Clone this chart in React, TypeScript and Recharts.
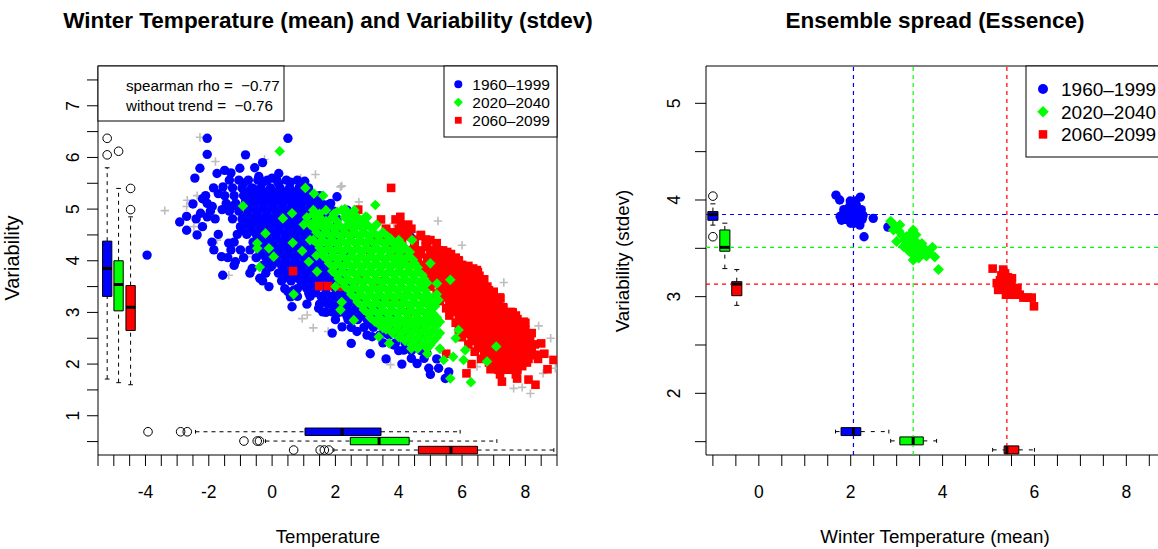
import React from "react";
import { ScatterChart, Scatter, XAxis, YAxis, ReferenceArea, ReferenceLine } from "recharts";

type P = [number, number];
type Row = [number, number[]];

const periods = ["1960–1999", "2020–2040", "2060–2099"];
const colors = ["#0000FF", "#00FF00", "#FF0000"];

// ---------- Left panel: individual winters (temperature, variability) ----------
const leftBlue: P[] = [
  [-2.05, 6.37], [0.5, 6.37], [-2.05, 6.06], [-0.84, 6.05], [-2.28, 5.79], [-2.44, 5.6], [-1.74, 5.69], [-1.5, 5.75],
  [-1.02, 5.79], [-0.55, 5.8], [-1.55, 5.43], [0.21, 5.69], [-0.42, 5.63], [-0.26, 5.53], [0.58, 5.52], [1.03, 5.54],
  [-1.89, 5.05], [-1.58, 4.99], [-1.28, 5.05], [-2.26, 4.92], [-2.05, 4.85], [-2.7, 4.86], [-2.92, 4.75], [-2.7, 4.59],
  [-2.37, 4.5], [-1.84, 4.21], [-1.6, 4.08], [-1.56, 3.72], [-1.16, 3.98], [-1.37, 4.34], [-1.0, 4.21], [-0.84, 5.2],
  [-0.63, 5.08], [-0.37, 5.37], [-0.07, 5.17], [0.16, 5.3], [-0.79, 4.85], [-0.95, 4.59], [-0.47, 4.72], [-0.1, 4.75],
  [-0.63, 3.85], [-0.39, 3.66], [-0.05, 3.88], [0.26, 4.21], [0.58, 4.34], [0.68, 4.59], [0.89, 5.05], [1.32, 5.17],
  [1.74, 5.08], [2.05, 5.24], [2.37, 4.98], [0.63, 3.11], [1.47, 3.08], [1.16, 3.37], [0.68, 3.43], [0.58, 3.3],
  [1.13, 3.56], [2.21, 2.72], [2.68, 2.63], [3.16, 2.53], [3.63, 2.59], [3.84, 2.37], [4.16, 2.27], [4.58, 2.01],
  [4.95, 1.92], [5.26, 1.92], [5.47, 1.72], [5.58, 1.85], [4.89, 2.21], [4.47, 2.4], [2.05, 2.98], [2.37, 2.92],
  [1.74, 3.17], [2.05, 3.43], [1.53, 3.69], [1.74, 3.95], [1.32, 4.21], [1.63, 4.46], [2.37, 4.08], [2.58, 3.56],
  [3.32, 3.24], [2.79, 3.05], [3.84, 2.92], [4.26, 2.72], [3.42, 2.79], [3.0, 4.34], [2.58, 4.53], [4.37, 4.46],
  [-3.95, 4.11], [-2.5, 5.1], [-1.7, 5.3], [-0.9, 5.5], [-0.3, 5.9], [0.2, 5.5], [1.0, 5.2], [-2.2, 5.2],
  [-1.3, 5.7], [0.0, 5.6], [-0.6, 5.4], [1.9, 2.6], [2.5, 2.4], [3.1, 2.2], [3.6, 2.1], [4.1, 2.0],
  [5.0, 1.8], [5.2, 2.1], [4.7, 2.5], [-0.1, 3.5], [0.5, 3.4], [1.7, 3.0],
];
// dense core of the 1960-1999 cloud: [variability, temperatures]
const leftBlueCore: Row[] = [
  [5.56, [-1.35, -1.05, -0.75, -0.45, -0.15, 0.15, 0.45, 0.8]],
  [5.41, [-1.85, -1.25, -0.95, -0.65, -0.35, -0.05, 0.25, 0.55, 0.85, 1.15]],
  [5.26, [-2.1, -1.5, -1.2, -0.9, -0.6, -0.3, 0.0, 0.3, 0.6, 0.9, 1.2, 1.5]],
  [5.11, [-2.05, -1.45, -1.15, -0.85, -0.55, -0.25, 0.05, 0.35, 0.65, 0.95, 1.25, 1.55, 1.85]],
  [4.96, [-1.95, -1.35, -1.05, -0.75, -0.45, -0.15, 0.15, 0.45, 0.75, 1.05, 1.35, 1.65, 1.95]],
  [4.81, [-2.4, -1.8, -1.25, -0.95, -0.65, -0.35, -0.05, 0.25, 0.55, 0.85, 1.15, 1.45, 1.75, 2.05]],
  [4.66, [-2.2, -1.0, -0.7, -0.4, -0.1, 0.2, 0.5, 0.8, 1.1, 1.4, 1.7, 2.0]],
  [4.51, [-1.7, -1.1, -0.8, -0.5, -0.2, 0.1, 0.4, 0.7, 1.0, 1.3, 1.6, 1.9, 2.2]],
  [4.36, [-1.9, -1.2, -0.6, -0.3, 0.0, 0.3, 0.6, 0.9, 1.2, 1.5, 1.8, 2.1]],
  [4.21, [-1.3, -0.7, -0.4, -0.1, 0.2, 0.5, 0.8, 1.1, 1.4, 1.7, 2.0]],
  [4.06, [-1.4, -0.9, -0.5, -0.2, 0.1, 0.4, 0.7, 1.0, 1.3, 1.6, 1.9, 2.2]],
  [3.91, [-1.2, -0.3, 0.0, 0.3, 0.6, 0.9, 1.2, 1.5, 1.8, 2.1]],
  [3.76, [-0.7, -0.2, 0.2, 0.5, 0.8, 1.1, 1.4, 1.7, 2.0, 2.3]],
  [3.61, [-0.3, 0.3, 0.6, 0.9, 1.2, 1.5, 1.8, 2.1, 2.4]],
  [3.46, [0.4, 0.8, 1.1, 1.4, 1.7, 2.0, 2.3, 2.6]],
  [3.31, [0.8, 1.2, 1.55, 1.9, 2.2, 2.5, 2.8]],
  [3.16, [1.1, 1.5, 1.8, 2.1, 2.4, 2.7, 3.0]],
  [3.01, [1.6, 1.9, 2.2, 2.5, 2.8, 3.1, 3.4]],
  [2.86, [2.0, 2.4, 2.7, 3.0, 3.3, 3.6]],
  [2.71, [2.5, 2.9, 3.2, 3.5, 3.8, 4.1]],
  [2.56, [3.0, 3.4, 3.7, 4.0, 4.3]],
  [2.41, [3.5, 3.9, 4.2, 4.5]],
  [2.26, [4.0, 4.4, 4.7]],
  [2.11, [4.4, 4.8]],
  [5.33, [-0.75, -0.45, -0.15, 0.15, 0.45, 0.75, 1.05]],
  [5.18, [-0.7, -0.4, -0.1, 0.2, 0.5, 0.8, 1.1, 1.4]],
  [5.03, [-0.6, -0.3, 0.0, 0.3, 0.6, 0.9, 1.2, 1.5, 1.8]],
  [4.88, [-0.8, -0.5, -0.2, 0.1, 0.4, 0.7, 1.0, 1.3, 1.6, 1.9]],
  [4.73, [-0.85, -0.55, -0.25, 0.05, 0.35, 0.65, 0.95, 1.25, 1.55]],
  [4.58, [-0.65, -0.35, -0.05, 0.25, 0.55, 0.85, 1.15, 1.45]],
  [4.43, [-0.45, -0.15, 0.15, 0.45, 0.75, 1.05, 1.35]],
  [4.28, [-0.55, -0.25, 0.05, 0.35, 0.65, 0.95, 1.25]],
  [4.13, [-0.35, -0.05, 0.25, 0.55, 0.85, 1.15, 1.45]],
  [3.98, [-0.15, 0.15, 0.45, 0.75, 1.05, 1.35]],
  [3.83, [0.35, 0.65, 0.95, 1.25, 1.55, 1.85]],
  [3.68, [0.45, 0.75, 1.05, 1.35, 1.65, 1.95, 2.25]],
  [3.53, [0.95, 1.25, 1.55, 1.85, 2.15, 2.45]],
  [3.38, [1.35, 1.7, 2.05, 2.35, 2.65]],
  [3.23, [1.65, 1.95, 2.25, 2.55, 2.85]],
  [3.08, [2.0, 2.35, 2.65, 2.95, 3.25]],
  [2.93, [2.55, 2.85, 3.15, 3.45]],
  [2.78, [3.05, 3.35, 3.65, 3.95]],
  [2.63, [3.55, 3.85, 4.15]],
];

const leftGreen: P[] = [
  [0.24, 6.12], [-0.92, 5.06], [1.05, 5.41], [1.32, 5.3], [1.61, 5.26], [3.26, 5.08], [0.34, 4.82], [0.63, 4.92],
  [-0.21, 4.53], [-0.47, 4.34], [-0.47, 4.24], [-0.1, 4.24], [0.05, 4.08], [-0.39, 3.88], [0.65, 4.35], [0.95, 4.19],
  [1.16, 3.98], [0.68, 3.35], [1.42, 3.79], [2.16, 3.05], [2.58, 2.85], [3.37, 2.53], [5.42, 2.08], [5.63, 1.72],
  [6.28, 1.65], [5.72, 2.14], [6.05, 2.08], [6.79, 2.05], [7.08, 2.34], [5.63, 3.63], [5.21, 3.56], [5.26, 3.24],
  [5.89, 2.66], [6.1, 2.27], [4.42, 4.4], [5.0, 3.95], [3.74, 4.43], [2.95, 4.85], [2.05, 4.95], [2.58, 4.85],
  [1.2, 4.4], [1.0, 4.7], [1.3, 4.9], [2.3, 5.0], [4.1, 4.0], [4.8, 2.4], [3.5, 2.7], [2.2, 3.2],
  [4.4, 2.3], [3.7, 2.4], [1.4, 4.1], [2.0, 3.5], [4.8, 3.6], [5.2, 3.35], [5.8, 2.5], [4.9, 2.2],
];
const leftGreenCore: Row[] = [
  [4.98, [1.3, 1.7, 2.2, 2.6]],
  [4.84, [1.1, 1.5, 1.9, 2.3, 2.7, 3.0]],
  [4.7, [1.2, 1.5, 1.8, 2.1, 2.4, 2.7, 3.0, 3.3]],
  [4.55, [1.4, 1.7, 2.0, 2.3, 2.6, 2.9, 3.2, 3.5]],
  [4.4, [1.3, 1.6, 1.9, 2.2, 2.5, 2.8, 3.1, 3.4, 3.7, 4.0]],
  [4.25, [1.5, 1.8, 2.1, 2.4, 2.7, 3.0, 3.3, 3.6, 3.9, 4.2]],
  [4.1, [1.6, 1.9, 2.2, 2.5, 2.8, 3.1, 3.4, 3.7, 4.0, 4.3]],
  [3.95, [1.8, 2.1, 2.4, 2.7, 3.0, 3.3, 3.6, 3.9, 4.2, 4.5]],
  [3.8, [1.9, 2.2, 2.5, 2.8, 3.1, 3.4, 3.7, 4.0, 4.3, 4.6]],
  [3.65, [2.1, 2.4, 2.7, 3.0, 3.3, 3.6, 3.9, 4.2, 4.5, 4.8]],
  [3.5, [2.3, 2.6, 2.9, 3.2, 3.5, 3.8, 4.1, 4.4, 4.7]],
  [3.35, [2.5, 2.8, 3.1, 3.4, 3.7, 4.0, 4.3, 4.6, 4.9]],
  [3.2, [2.7, 3.0, 3.3, 3.6, 3.9, 4.2, 4.5, 4.8, 5.1]],
  [3.05, [2.9, 3.2, 3.5, 3.8, 4.1, 4.4, 4.7, 5.0]],
  [2.9, [3.1, 3.4, 3.7, 4.0, 4.3, 4.6, 4.9, 5.2]],
  [2.75, [3.4, 3.7, 4.0, 4.3, 4.6, 4.9, 5.2]],
  [2.6, [3.8, 4.1, 4.4, 4.7, 5.0, 5.3]],
  [2.45, [4.2, 4.5, 4.8, 5.1]],
  [2.3, [4.6, 4.9, 5.3]],
  [4.91, [1.5, 1.95, 2.4]],
  [4.77, [1.35, 1.7, 2.05, 2.5, 2.85]],
  [4.62, [1.35, 1.65, 1.95, 2.25, 2.55, 2.85, 3.15]],
  [4.47, [1.55, 1.85, 2.15, 2.45, 2.75, 3.05, 3.35, 3.65]],
  [4.32, [1.45, 1.75, 2.05, 2.35, 2.65, 2.95, 3.25, 3.55, 3.85, 4.1]],
  [4.17, [1.65, 1.95, 2.25, 2.55, 2.85, 3.15, 3.45, 3.75, 4.05, 4.35]],
  [4.02, [1.75, 2.05, 2.35, 2.65, 2.95, 3.25, 3.55, 3.85, 4.15, 4.45]],
  [3.87, [1.95, 2.25, 2.55, 2.85, 3.15, 3.45, 3.75, 4.05, 4.35, 4.6]],
  [3.72, [2.05, 2.35, 2.65, 2.95, 3.25, 3.55, 3.85, 4.15, 4.45, 4.75]],
  [3.57, [2.25, 2.55, 2.85, 3.15, 3.45, 3.75, 4.05, 4.35, 4.65, 4.9]],
  [3.42, [2.45, 2.75, 3.05, 3.35, 3.65, 3.95, 4.25, 4.55, 4.85]],
  [3.27, [2.65, 2.95, 3.25, 3.55, 3.85, 4.15, 4.45, 4.75, 5.0]],
  [3.12, [2.85, 3.15, 3.45, 3.75, 4.05, 4.35, 4.65, 4.95, 5.15]],
  [2.97, [3.05, 3.35, 3.65, 3.95, 4.25, 4.55, 4.85, 5.1]],
  [2.82, [3.25, 3.55, 3.85, 4.15, 4.45, 4.75, 5.05, 5.3]],
  [2.67, [3.6, 3.9, 4.2, 4.5, 4.8, 5.1]],
  [2.52, [4.0, 4.3, 4.6, 4.9, 5.2]],
  [2.37, [4.4, 4.7, 5.0]],
];

const leftRed: P[] = [
  [3.76, 5.41], [2.72, 4.99], [3.44, 4.8], [4.05, 4.85], [4.07, 4.69], [0.66, 3.8], [1.49, 3.51], [1.77, 3.51],
  [4.89, 4.4], [5.53, 4.17], [5.89, 4.01], [6.47, 3.82], [7.21, 3.27], [7.95, 2.82], [8.89, 2.08], [8.32, 1.6],
  [7.74, 1.72], [7.26, 1.66], [6.14, 1.82], [8.37, 2.18], [8.16, 2.34], [7.63, 2.59], [7.42, 2.92], [7.0, 3.05],
  [6.79, 3.43], [6.26, 3.56], [6.68, 3.63], [3.32, 4.46], [4.47, 4.21], [5.21, 3.88], [6.2, 3.9], [7.0, 3.4],
  [7.6, 3.0], [8.0, 2.8], [8.5, 2.4], [5.8, 4.0], [5.3, 4.2], [4.5, 4.3], [3.6, 4.6], [3.9, 4.8],
  [4.3, 4.7], [5.0, 4.4], [7.3, 3.1], [5.5, 2.2], [4.7, 2.7], [4.3, 3.0], [3.4, 3.6], [2.9, 3.7],
  [3.1, 4.2], [2.4, 4.6], [2.2, 3.5], [7.7, 2.8], [8.2, 2.6], [8.6, 2.2], [5.4, 3.9], [4.7, 4.5],
  [7.7, 1.8], [8.1, 1.7], [6.3, 2.0], [6.9, 1.9], [7.2, 1.8], [8.7, 1.9], [4.1, 3.3], [3.7, 3.3],
];
const leftRedCore: Row[] = [
  [4.62, [3.6, 4.0, 4.4]],
  [4.48, [3.5, 3.9, 4.3, 4.7]],
  [4.34, [3.7, 4.1, 4.5, 4.9, 5.2]],
  [4.2, [3.9, 4.3, 4.7, 5.0, 5.4]],
  [4.06, [4.1, 4.5, 4.9, 5.2, 5.5, 5.8]],
  [3.92, [4.4, 4.8, 5.1, 5.4, 5.7, 6.0]],
  [3.78, [4.7, 5.0, 5.3, 5.6, 5.9, 6.2, 6.5]],
  [3.64, [4.9, 5.2, 5.5, 5.8, 6.1, 6.4, 6.7]],
  [3.5, [5.0, 5.3, 5.6, 5.9, 6.2, 6.5, 6.8]],
  [3.36, [5.2, 5.5, 5.8, 6.1, 6.4, 6.7, 7.0]],
  [3.22, [5.3, 5.6, 5.9, 6.2, 6.5, 6.8, 7.1]],
  [3.08, [5.5, 5.8, 6.1, 6.4, 6.7, 7.0, 7.3]],
  [2.94, [5.6, 5.9, 6.2, 6.5, 6.8, 7.1, 7.4, 7.7]],
  [2.8, [5.8, 6.1, 6.4, 6.7, 7.0, 7.3, 7.6, 7.9]],
  [2.66, [5.9, 6.2, 6.5, 6.8, 7.1, 7.4, 7.7, 8.0]],
  [2.52, [6.0, 6.3, 6.6, 6.9, 7.2, 7.5, 7.8, 8.1]],
  [2.38, [6.2, 6.5, 6.8, 7.1, 7.4, 7.7, 8.0, 8.3]],
  [2.24, [6.4, 6.7, 7.0, 7.3, 7.6, 7.9, 8.2]],
  [2.1, [6.6, 6.9, 7.2, 7.5, 7.8, 8.1, 8.4]],
  [1.96, [7.0, 7.3, 7.6, 7.9]],
  [4.55, [3.75, 4.15]],
  [4.41, [3.7, 4.1, 4.5, 4.85]],
  [4.27, [4.1, 4.5, 4.85, 5.2]],
  [4.13, [4.3, 4.7, 5.05, 5.35, 5.65]],
  [3.99, [4.6, 4.95, 5.3, 5.6, 5.9]],
  [3.85, [4.85, 5.15, 5.45, 5.75, 6.05, 6.35]],
  [3.71, [5.05, 5.35, 5.65, 5.95, 6.25, 6.55]],
  [3.57, [5.15, 5.45, 5.75, 6.05, 6.35, 6.65]],
  [3.43, [5.35, 5.65, 5.95, 6.25, 6.55, 6.85]],
  [3.29, [5.45, 5.75, 6.05, 6.35, 6.65, 6.95, 7.2]],
  [3.15, [5.65, 5.95, 6.25, 6.55, 6.85, 7.15]],
  [3.01, [5.75, 6.05, 6.35, 6.65, 6.95, 7.25, 7.55]],
  [2.87, [5.95, 6.25, 6.55, 6.85, 7.15, 7.45, 7.75]],
  [2.73, [6.05, 6.35, 6.65, 6.95, 7.25, 7.55, 7.85]],
  [2.59, [6.15, 6.45, 6.75, 7.05, 7.35, 7.65, 7.95]],
  [2.45, [6.35, 6.65, 6.95, 7.25, 7.55, 7.85, 8.15]],
  [2.31, [6.55, 6.85, 7.15, 7.45, 7.75, 8.05]],
  [2.17, [6.75, 7.05, 7.35, 7.65, 7.95, 8.25]],
  [2.03, [6.85, 7.15, 7.45, 7.75, 8.05]],
  [1.89, [7.15, 7.45, 7.75]],
];

const leftGrey: P[] = [
  [-2.28, 6.39], [-1.79, 5.92], [-0.24, 5.96], [1.37, 5.67], [2.16, 5.43], [-3.39, 4.97], [-2.68, 5.17], [-2.37, 5.26],
  [-2.7, 5.05], [-1.0, 5.38], [-1.74, 4.4], [-2.47, 4.66], [-1.37, 3.72], [-0.63, 4.08], [0.95, 2.88], [1.11, 2.95],
  [1.77, 2.63], [3.74, 1.99], [4.47, 4.56], [5.24, 4.77], [7.32, 3.58], [8.42, 2.74], [8.37, 2.39], [8.56, 1.82],
  [8.95, 1.92], [7.63, 1.53], [8.16, 1.43], [2.74, 5.14], [3.84, 4.72], [0.16, 4.66], [5.42, 2.21], [6.47, 1.95],
  [2.79, 3.37], [-0.37, 5.24], [2.2, 5.45], [0.9, 5.6], [6.0, 4.3], [8.8, 2.5], [7.9, 1.55], [1.3, 2.7],
];

// boxplot stats: [lower whisker, Q1, median, Q3, upper whisker]
const leftVarStats: number[][] = [
  [1.71, 3.31, 3.85, 4.38, 5.8],
  [1.64, 3.03, 3.54, 4.0, 5.4],
  [1.6, 2.65, 3.1, 3.52, 4.85],
];
const leftVarOutliers: number[][] = [[6.37, 6.05], [6.12], [5.4, 4.99]];
const leftTempStats: number[][] = [
  [-2.42, 1.04, 2.21, 3.44, 5.94],
  [-0.21, 2.47, 3.38, 4.33, 7.1],
  [1.95, 4.62, 5.65, 6.49, 8.9],
];
const leftTempOutliers: number[][] = [[-3.92, -2.89, -2.68], [-0.89, -0.47, -0.4], [0.68, 1.52, 1.65, 1.79]];

// ---------- Right panel: ensemble members (mean temperature, mean variability) ----------
const rightBlue: P[] = [
  [1.68, 4.05], [1.76, 4.0], [2.21, 4.03], [2.49, 3.81], [2.29, 3.62], [1.8, 3.79], [1.77, 3.83], [2.2, 3.74],
  [2.81, 3.72], [2.05, 3.86], [1.95, 3.9], [2.15, 3.9], [2.0, 3.8], [2.1, 3.8], [1.9, 3.85], [2.2, 3.85],
  [2.05, 3.95], [2.0, 3.76], [2.15, 3.78], [1.97, 3.93], [2.12, 3.95], [2.25, 3.8], [1.88, 3.8],
  [2.0, 3.88], [2.1, 3.9], [1.95, 3.82], [2.08, 3.83], [2.18, 3.88], [1.92, 3.88], [2.03, 3.92], [2.13, 3.84],
  [1.98, 3.86], [2.07, 3.76], [2.23, 3.9], [1.85, 3.9], [2.1, 3.99], [1.99, 3.99], [1.83, 3.85], [2.27, 3.84],
];
const rightGreen: P[] = [
  [2.87, 3.78], [3.07, 3.74], [2.93, 3.69], [3.0, 3.57], [3.36, 3.69], [3.21, 3.62], [3.36, 3.48], [3.58, 3.45],
  [3.78, 3.51], [3.83, 3.41], [3.91, 3.28], [3.43, 3.55], [3.28, 3.52], [3.5, 3.5], [3.39, 3.42],
  [2.95, 3.74], [3.05, 3.68], [3.12, 3.63], [3.18, 3.58], [3.25, 3.56], [3.3, 3.6], [3.4, 3.58], [3.45, 3.5],
  [3.52, 3.46], [3.6, 3.5], [3.65, 3.42], [3.7, 3.46], [3.33, 3.66], [3.27, 3.47], [3.15, 3.52], [3.42, 3.64],
  [3.55, 3.55], [3.48, 3.4], [3.36, 3.38],
];
const rightRed: P[] = [
  [5.09, 3.29], [5.32, 3.28], [5.25, 3.17], [5.51, 3.19], [5.4, 3.14], [5.21, 3.07], [5.4, 3.05], [5.54, 3.02],
  [5.63, 3.09], [5.76, 2.99], [5.94, 2.99], [5.99, 2.9], [5.32, 3.2], [5.47, 3.12], [5.18, 3.14],
  [5.28, 3.22], [5.35, 3.15], [5.3, 3.1], [5.45, 3.08], [5.5, 3.15], [5.36, 3.24], [5.42, 3.2], [5.58, 3.05],
  [5.25, 3.12], [5.38, 3.02], [5.68, 3.02], [5.85, 2.99],
];
const rightMeanTemp = [2.06, 3.36, 5.4];
const rightMeanVar = [3.85, 3.51, 3.13];
const rightVarStats: number[][] = [
  [3.74, 3.79, 3.85, 3.88, 3.96],
  [3.29, 3.47, 3.51, 3.69, 3.76],
  [2.91, 3.01, 3.13, 3.155, 3.28],
];
const rightVarOutliers: number[][] = [[4.04, 3.62], [], []];
const rightTempStats: number[][] = [
  [1.67, 1.79, 2.06, 2.22, 2.83],
  [2.87, 3.07, 3.36, 3.58, 3.87],
  [5.09, 5.34, 5.4, 5.66, 6.0],
];

// ---------- axes ----------
const leftXTicks = [-5.5, -5, -4.5, -4, -3.5, -3, -2.5, -2, -1.5, -1, -0.5, 0, 0.5, 1, 1.5, 2, 2.5, 3, 3.5, 4, 4.5, 5, 5.5, 6, 6.5, 7, 7.5, 8, 8.5, 9];
const leftXLabels = [-4, -2, 0, 2, 4, 6, 8];
const leftYTicks = [0.5, 1, 1.5, 2, 2.5, 3, 3.5, 4, 4.5, 5, 5.5, 6, 6.5, 7, 7.5];
const leftYLabels = [1, 2, 3, 4, 5, 6, 7];
const rightXTicks = [-1, -0.5, 0, 0.5, 1, 1.5, 2, 2.5, 3, 3.5, 4, 4.5, 5, 5.5, 6, 6.5, 7, 7.5, 8, 8.5];
const rightXLabels = [0, 2, 4, 6, 8];
const rightYTicks = [1.5, 2, 2.5, 3, 3.5, 4, 4.5, 5];
const rightYLabels = [2, 3, 4, 5];

// ---------- layout constants ----------
const FONT = '"Liberation Sans", Arial, Helvetica, sans-serif';
const LX: [number, number] = [-5.5, 9];
const LY: [number, number] = [0.24, 7.77];
const RX: [number, number] = [-1.15, 8.82];
const RY: [number, number] = [1.362, 5.386];
const leftVarPos = [-5.21, -4.85, -4.47];
const leftTempPos = [0.69, 0.51, 0.336];
const rightVarPos = [-1.0, -0.74, -0.48];
const rightTempPos = [1.604, 1.508, 1.415];

const toXY = (a: P[]) => a.map(([x, y]) => ({ x, y }));
const rowsXY = (rows: Row[]) => rows.flatMap(([y, xs]) => xs.map((x) => ({ x, y })));

const circleShape = (fill: string, r: number) => (p: any) => <circle cx={p.cx} cy={p.cy} r={r} fill={fill} />;
const diamondShape = (fill: string, h: number) => (p: any) => (
  <polygon points={`${p.cx},${p.cy - h} ${p.cx + h},${p.cy} ${p.cx},${p.cy + h} ${p.cx - h},${p.cy}`} fill={fill} />
);
const squareShape = (fill: string, s: number) => (p: any) => (
  <rect x={p.cx - s / 2} y={p.cy - s / 2} width={s} height={s} fill={fill} />
);
const crossShape = (stroke: string, h: number) => (p: any) => (
  <path d={`M${p.cx - h},${p.cy}H${p.cx + h}M${p.cx},${p.cy - h}V${p.cy + h}`} stroke={stroke} strokeWidth={1.6} fill="none" />
);
const hollowShape = (r: number) => (p: any) => <circle cx={p.cx} cy={p.cy} r={r} fill="none" stroke="#000" strokeWidth={1} />;

const xTick = (labels: number[], baseY: number, fs: number) => (p: any) => {
  const v = p.payload.value;
  if (!labels.includes(v)) return <g />;
  return (
    <text x={p.x} y={baseY} textAnchor="middle" fontSize={fs} fontFamily={FONT} fill="#000">
      {String(v)}
    </text>
  );
};
const yTick = (labels: number[], baseX: number, fs: number) => (p: any) => {
  const v = p.payload.value;
  if (!labels.includes(v)) return <g />;
  return (
    <text transform={`translate(${baseX},${p.y}) rotate(-90)`} textAnchor="middle" fontSize={fs} fontFamily={FONT} fill="#000">
      {String(v)}
    </text>
  );
};

function vBox(k: string, pos: number, s: number[], hw: number, cap: number, color: string, dash: string) {
  return [
    <ReferenceLine key={k + "w1"} segment={[{ x: pos, y: s[0] }, { x: pos, y: s[1] }]} stroke="#000" strokeDasharray={dash} />,
    <ReferenceLine key={k + "w2"} segment={[{ x: pos, y: s[3] }, { x: pos, y: s[4] }]} stroke="#000" strokeDasharray={dash} />,
    <ReferenceLine key={k + "c1"} segment={[{ x: pos - cap, y: s[0] }, { x: pos + cap, y: s[0] }]} stroke="#000" />,
    <ReferenceLine key={k + "c2"} segment={[{ x: pos - cap, y: s[4] }, { x: pos + cap, y: s[4] }]} stroke="#000" />,
    <ReferenceArea key={k + "b"} x1={pos - hw} x2={pos + hw} y1={s[1]} y2={s[3]} fill={color} fillOpacity={1} stroke="#000" strokeWidth={1} />,
    <ReferenceLine key={k + "m"} segment={[{ x: pos - hw, y: s[2] }, { x: pos + hw, y: s[2] }]} stroke="#000" strokeWidth={3} />,
  ];
}
function hBox(k: string, pos: number, s: number[], hh: number, cap: number, color: string, dash: string) {
  return [
    <ReferenceLine key={k + "w1"} segment={[{ x: s[0], y: pos }, { x: s[1], y: pos }]} stroke="#000" strokeDasharray={dash} />,
    <ReferenceLine key={k + "w2"} segment={[{ x: s[3], y: pos }, { x: s[4], y: pos }]} stroke="#000" strokeDasharray={dash} />,
    <ReferenceLine key={k + "c1"} segment={[{ x: s[0], y: pos - cap }, { x: s[0], y: pos + cap }]} stroke="#000" />,
    <ReferenceLine key={k + "c2"} segment={[{ x: s[4], y: pos - cap }, { x: s[4], y: pos + cap }]} stroke="#000" />,
    <ReferenceArea key={k + "b"} x1={s[1]} x2={s[3]} y1={pos - hh} y2={pos + hh} fill={color} fillOpacity={1} stroke="#000" strokeWidth={1} />,
    <ReferenceLine key={k + "m"} segment={[{ x: s[2], y: pos - hh }, { x: s[2], y: pos + hh }]} stroke="#000" strokeWidth={3} />,
  ];
}

const leftVarOut = leftVarOutliers.flatMap((o, i) => o.map((y) => ({ x: leftVarPos[i], y })));
const leftTempOut = leftTempOutliers.flatMap((o, i) => o.map((x) => ({ x, y: leftTempPos[i] })));
const rightVarOut = rightVarOutliers.flatMap((o, i) => o.map((y) => ({ x: rightVarPos[i], y })));

const blueData = [...toXY(leftBlue), ...rowsXY(leftBlueCore)];
const greenData = [...toXY(leftGreen), ...rowsXY(leftGreenCore)];
const redData = [...toXY(leftRed), ...rowsXY(leftRedCore)];

function LegendSym({ i, x, y, r }: { i: number; x: number; y: number; r: number }) {
  if (i === 0) return <circle cx={x} cy={y} r={r} fill={colors[0]} />;
  if (i === 1) return <polygon points={`${x},${y - r * 1.15} ${x + r * 1.15},${y} ${x},${y + r * 1.15} ${x - r * 1.15},${y}`} fill={colors[1]} />;
  return <rect x={x - r * 0.85} y={y - r * 0.85} width={r * 1.7} height={r * 1.7} fill={colors[2]} />;
}

export default function App() {
  return (
    <div style={{ position: "absolute", left: 0, top: 0, width: 1158, height: 549, overflow: "hidden", background: "#fff" }}>
      <div style={{ position: "absolute", left: 0, top: 0 }}>
        <ScatterChart width={579} height={549} margin={{ top: 66, right: 22, bottom: 0, left: 0 }}>
          <XAxis type="number" dataKey="x" domain={LX} ticks={leftXTicks} interval={0} allowDataOverflow height={94}
            axisLine={false} tickSize={11} tickLine={{ stroke: "#000" }} tick={xTick(leftXLabels, 498, 17.5)} />
          <YAxis type="number" dataKey="y" domain={LY} ticks={leftYTicks} interval={0} allowDataOverflow width={98}
            axisLine={false} tickSize={11} tickLine={{ stroke: "#000" }} tick={yTick(leftYLabels, 79, 17.5)} />
          <ReferenceArea x1={LX[0]} x2={LX[1]} y1={LY[0]} y2={LY[1]} fill="none" stroke="#000" strokeWidth={1} />
          <Scatter data={toXY(leftGrey)} shape={crossShape("#BEBEBE", 4.2)} isAnimationActive={false} />
          <Scatter data={blueData} shape={circleShape(colors[0], 4.7)} isAnimationActive={false} />
          <Scatter data={redData} shape={squareShape(colors[2], 8.6)} isAnimationActive={false} />
          <Scatter data={greenData} shape={diamondShape(colors[1], 5.3)} isAnimationActive={false} />
          {leftVarStats.flatMap((s, i) => vBox("lv" + i, leftVarPos[i], s, 0.147, 0.074, colors[i], "4 4"))}
          {leftTempStats.flatMap((s, i) => hBox("lt" + i, leftTempPos[i], s, 0.072, 0.036, colors[i], "4 4"))}
          <Scatter data={leftVarOut} shape={hollowShape(4.3)} isAnimationActive={false} />
          <Scatter data={leftTempOut} shape={hollowShape(4.3)} isAnimationActive={false} />
        </ScatterChart>
      </div>
      <div style={{ position: "absolute", left: 579, top: 0 }}>
        <ScatterChart width={600} height={549} margin={{ top: 66, right: 15, bottom: 0, left: 0 }}>
          <XAxis type="number" dataKey="x" domain={RX} ticks={rightXTicks} interval={0} allowDataOverflow height={94}
            axisLine={false} tickSize={11} tickLine={{ stroke: "#000" }} tick={xTick(rightXLabels, 498, 17.5)} />
          <YAxis type="number" dataKey="y" domain={RY} ticks={rightYTicks} interval={0} allowDataOverflow width={127}
            axisLine={false} tickSize={11} tickLine={{ stroke: "#000" }} tick={yTick(rightYLabels, 101, 17.5)} />
          <ReferenceArea x1={RX[0]} x2={RX[1]} y1={RY[0]} y2={RY[1]} fill="none" stroke="#000" strokeWidth={1} />
          {rightMeanTemp.map((v, i) => (
            <ReferenceLine key={"mx" + i} x={v} stroke={colors[i]} strokeWidth={1.2} strokeDasharray="4 4" />
          ))}
          {rightMeanVar.map((v, i) => (
            <ReferenceLine key={"my" + i} y={v} stroke={colors[i]} strokeWidth={1.2} strokeDasharray="4 4" />
          ))}
          <Scatter data={toXY(rightBlue)} shape={circleShape(colors[0], 4.7)} isAnimationActive={false} />
          <Scatter data={toXY(rightGreen)} shape={diamondShape(colors[1], 5.5)} isAnimationActive={false} />
          <Scatter data={toXY(rightRed)} shape={squareShape(colors[2], 8.6)} isAnimationActive={false} />
          {rightVarStats.flatMap((s, i) => vBox("rv" + i, rightVarPos[i], s, 0.11, 0.055, colors[i], "4 6"))}
          {rightTempStats.flatMap((s, i) => hBox("rt" + i, rightTempPos[i], s, 0.041, 0.02, colors[i], "4 6"))}
          <Scatter data={rightVarOut} shape={hollowShape(4.3)} isAnimationActive={false} />
        </ScatterChart>
      </div>
      <svg width={1158} height={549} style={{ position: "absolute", left: 0, top: 0, pointerEvents: "none" }} fontFamily={FONT}>
        <text x={328} y={28} textAnchor="middle" fontSize={22.5} fontWeight="bold">Winter Temperature (mean) and Variability (stdev)</text>
        <text x={935} y={28} textAnchor="middle" fontSize={22.5} fontWeight="bold">Ensemble spread (Essence)</text>
        <text x={328} y={543} textAnchor="middle" fontSize={18.6}>Temperature</text>
        <text x={935} y={543} textAnchor="middle" fontSize={18.8}>Winter Temperature (mean)</text>
        <text transform="translate(19,258) rotate(-90)" textAnchor="middle" fontSize={20}>Variability</text>
        <text transform="translate(629,261) rotate(-90)" textAnchor="middle" fontSize={18.8}>Variability (stdev)</text>

        <rect x={98} y={66} width={186} height={55} fill="#fff" stroke="#000" />
        <text x={126} y={91} fontSize={15.2} style={{ whiteSpace: "pre" }}>{"spearman rho =  −0.77"}</text>
        <text x={126} y={110.5} fontSize={15.2} style={{ whiteSpace: "pre" }}>{"without trend =  −0.76"}</text>

        <rect x={444} y={66} width={113} height={71} fill="#fff" stroke="#000" />
        {periods.map((p, i) => (
          <g key={"ll" + i}>
            <LegendSym i={i} x={458.3} y={84.3 + 18 * i} r={4} />
            <text x={472.3} y={84.3 + 18 * i + 5.5} fontSize={15.5}>{p}</text>
          </g>
        ))}

        <rect x={1026} y={66} width={200} height={91} fill="#fff" stroke="#000" />
        {periods.map((p, i) => (
          <g key={"rl" + i}>
            <LegendSym i={i} x={1043} y={89 + 22.7 * i} r={5} />
            <text x={1061} y={89 + 22.7 * i + 7} fontSize={19}>{p}</text>
          </g>
        ))}
      </svg>
    </div>
  );
}
